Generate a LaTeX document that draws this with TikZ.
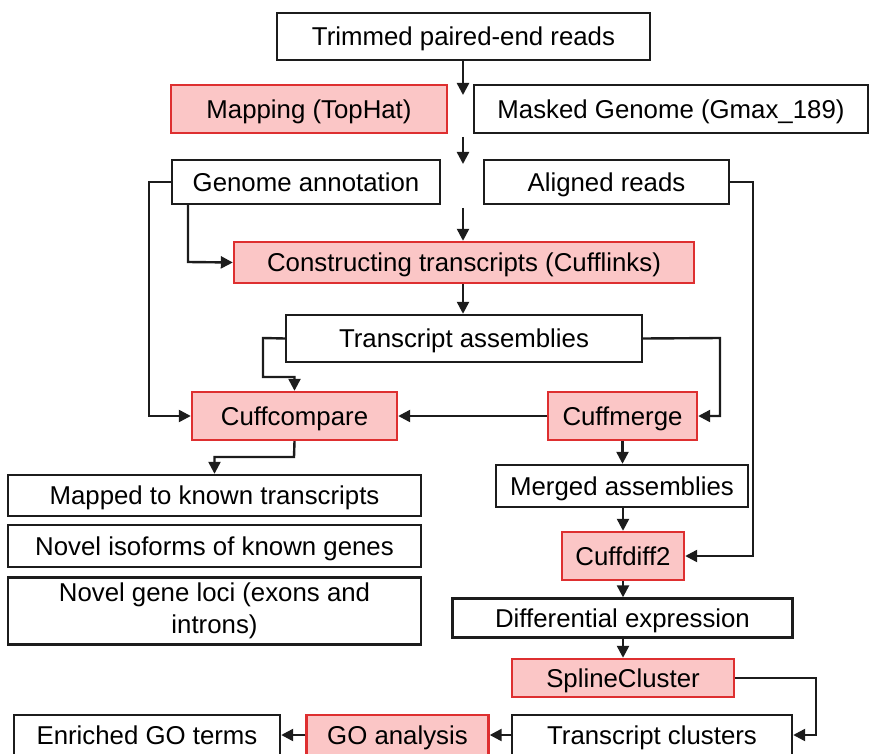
\documentclass[tikz,border=0pt]{standalone}
\usepackage{fontspec}
\setmainfont{Liberation Sans}
\usetikzlibrary{arrows.meta}
\definecolor{pinkf}{HTML}{FBC6C6}
\definecolor{redb}{HTML}{DE2F30}
\definecolor{ink}{HTML}{1C1C1C}
\begin{document}
\begin{tikzpicture}[x=1pt,y=-1pt,
  every node/.style={font=\fontsize{25.8pt}{28pt}\selectfont},
  base/.style={draw=ink, line width=2.4pt, fill=white, inner sep=0pt, text=black, anchor=center},
  box/.style={base, text height=18.5pt, text depth=0pt},
  rbox/.style={box, draw=redb, fill=pinkf},
  conn/.style={draw=ink, line width=2.4pt, -{Triangle[length=12pt,width=12pt]}}
]
\useasboundingbox (0,0) rectangle (870,754);
\clip (0,0) rectangle (870,754);

% nodes
\node[box, minimum width=373pt, minimum height=47pt] (trim) at (463.5,36.5) {Trimmed paired-end reads};
\node[rbox, minimum width=276pt, minimum height=48pt] (map) at (309,109) {Mapping (TopHat)};
\node[box, minimum width=394pt, minimum height=48pt] (mask) at (671,109) {Masked Genome (Gmax\_189)};
\node[box, minimum width=268pt, minimum height=44pt] (annot) at (306,182) {Genome annotation};
\node[box, minimum width=245pt, minimum height=44pt] (aligned) at (606.5,182) {Aligned reads};
\node[rbox, minimum width=460pt, minimum height=41pt] (construct) at (464,262.5) {Constructing transcripts (Cufflinks)};
\node[box, minimum width=356pt, minimum height=47pt] (tasm) at (464,338.5) {Transcript assemblies};
\node[rbox, minimum width=205pt, minimum height=48pt] (cuffcomp) at (294.5,416) {Cuffcompare};
\node[rbox, minimum width=149pt, minimum height=48pt] (cuffmerge) at (622.5,416) {Cuffmerge};
\node[box, minimum width=252pt, minimum height=42pt] (merged) at (622,486) {Merged assemblies};
\node[rbox, minimum width=122pt, minimum height=48pt] (cuffdiff) at (623,556) {Cuffdiff2};
\node[box, minimum width=413pt, minimum height=41pt] (mapped) at (214.5,495.5) {Mapped to known transcripts};
\node[box, minimum width=413pt, minimum height=42pt] (novisof) at (214.5,546) {Novel isoforms of known genes};
\node[base, align=center, font=\fontsize{25.8pt}{31.5pt}\selectfont, minimum width=413pt, minimum height=67pt] (novloci) at (214.5,611) {Novel gene loci (exons and\\introns)};
\node[box, minimum width=340pt, minimum height=39pt] (diffexp) at (622.5,618) {Differential expression};
\node[rbox, minimum width=222pt, minimum height=38pt] (spline) at (623,678) {SplineCluster};
\node[box, minimum width=280pt, minimum height=40pt] (tclust) at (652,735) {Transcript clusters};
\node[rbox, minimum width=182pt, minimum height=40pt] (goan) at (397.5,735) {GO analysis};
\node[box, minimum width=266pt, minimum height=40pt] (enriched) at (147,735) {Enriched GO terms};

% free ends on the central column
\coordinate (c1) at (463,95);
\coordinate (c2a) at (463,137);
\coordinate (c2b) at (463,164);
\coordinate (c3a) at (463,208);

% turning points
\coordinate (annL) at (149,182);
\coordinate (annB) at (188,262);
\coordinate (alR) at (753,182);
\coordinate (taL1) at (263,338);
\coordinate (taL2) at (263,377);
\coordinate (taR) at (720,338);
\coordinate (ccB) at (294,457);
\coordinate (spR) at (816,678);

% connectors
\draw[conn] (trim.south -| c1) -- (c1);
\draw[conn] (c2a) -- (c2b);
\draw[conn] (c3a) -- (construct.north -| c3a);
\draw[conn] (construct.south -| c3a) -- (tasm.north -| c3a);

\draw[conn] (annot.west) -- (annL) -- (annL |- cuffcomp.west) -- (cuffcomp.west);
\draw[conn] (annot.south -| annB) -- (annB) -- (construct.west);
\draw[conn] (aligned.east) -- (alR) -- (alR |- cuffdiff.east) -- (cuffdiff.east);
\draw[conn] (tasm.west) -- (taL1) -- (taL2) -- (taL2 -| cuffcomp.north) -- (cuffcomp.north);
\draw[conn] (tasm.east) -- (taR) -- (taR |- cuffmerge.east) -- (cuffmerge.east);
\draw[conn] (cuffmerge.west) -- (cuffcomp.east);
\draw[conn] (cuffcomp.south) -- (ccB) -- (ccB -| mapped.north) -- (mapped.north);

\draw[conn] (cuffmerge.south) -- (merged.north -| cuffmerge.south);
\draw[conn] (merged.south -| cuffdiff.north) -- (cuffdiff.north);
\draw[conn] (cuffdiff.south) -- (diffexp.north -| cuffdiff.south);
\draw[conn] (diffexp.south -| spline.north) -- (spline.north);
\draw[conn] (spline.east) -- (spR) -- (spR |- tclust.east) -- (tclust.east);
\draw[conn] (tclust.west) -- (goan.east);
\draw[conn] (goan.west) -- (enriched.east);
\end{tikzpicture}
\end{document}
